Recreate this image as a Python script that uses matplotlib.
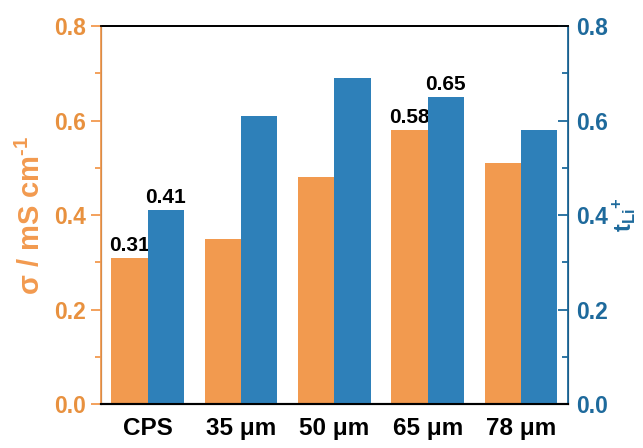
import matplotlib as mpl
mpl.use('Agg')
import matplotlib.pyplot as plt
import numpy as np
from matplotlib.ticker import MultipleLocator

plt.rcParams['font.family'] = ['Liberation Sans', 'DejaVu Sans']
plt.rcParams['font.weight'] = 'bold'
plt.rcParams['mathtext.fontset'] = 'custom'
plt.rcParams['mathtext.rm'] = 'Liberation Sans:bold'
plt.rcParams['mathtext.it'] = 'Liberation Sans:bold'
plt.rcParams['mathtext.bf'] = 'Liberation Sans:bold'

# data
samples = ['CPS', '35 μm', '50 μm', '65 μm', '78 μm']
sigma = [0.31, 0.35, 0.48, 0.58, 0.51]
t_li = [0.41, 0.61, 0.69, 0.65, 0.58]
labelled = [0, 3]  # groups with value labels

orange = '#F29A4F'
blue = '#2E80B9'
orange_txt = '#E8913F'
blue_txt = '#1E6A9C'

fig = plt.figure(figsize=(6.43, 4.48), dpi=100)
ax = fig.add_axes([0.157, 0.098, 0.726, 0.844])
ax2 = ax.twinx()

x = np.arange(len(samples))
w = 0.39
ax.bar(x - w/2, sigma, w, color=orange, zorder=2)
ax2.bar(x + w/2, t_li, w, color=blue, zorder=2)

for i in labelled:
    ax.text(x[i] - w/2, sigma[i] + 0.006, f'{sigma[i]:.2f}', ha='center', va='bottom',
            fontsize=15, fontweight='bold', color='black')
    ax2.text(x[i] + w/2, t_li[i] + 0.006, f'{t_li[i]:.2f}', ha='center', va='bottom',
             fontsize=15, fontweight='bold', color='black')

ax.set_xlim(-0.5, 4.5)
for a in (ax, ax2):
    a.set_ylim(0, 0.8)
    a.yaxis.set_major_locator(MultipleLocator(0.2))
    a.yaxis.set_minor_locator(MultipleLocator(0.1))

ax.set_xticks(x)
ax.set_xticklabels(samples, fontsize=17.5, fontweight='bold')
ax.tick_params(axis='x', length=0, pad=9)

ax.tick_params(axis='y', which='major', direction='out', length=7, width=1.3,
               colors=orange, labelcolor=orange_txt, labelsize=16.5)
ax.tick_params(axis='y', which='minor', direction='out', length=4, width=1.3, colors=orange)
ax2.tick_params(axis='y', which='major', direction='in', length=7, width=1.3,
                colors=blue_txt, labelcolor=blue_txt, labelsize=16.5, pad=6)
ax2.tick_params(axis='y', which='minor', direction='in', length=4, width=1.3, colors=blue_txt)
for lab in ax.get_yticklabels() + ax2.get_yticklabels():
    lab.set_fontweight('bold')

ax.yaxis.set_major_formatter(mpl.ticker.FormatStrFormatter('%.1f'))
ax2.yaxis.set_major_formatter(mpl.ticker.FormatStrFormatter('%.1f'))

for a in (ax, ax2):
    a.spines['top'].set_color('black')
    a.spines['bottom'].set_color('black')
    a.spines['top'].set_linewidth(1.3)
    a.spines['bottom'].set_linewidth(1.5)
ax2.spines['left'].set_color(orange)
ax2.spines['left'].set_linewidth(1.3)
ax2.spines['right'].set_color(blue_txt)
ax2.spines['right'].set_linewidth(1.3)

ax.set_ylabel('σ / mS cm$^{\\text{-}1}$', color=orange, fontsize=21, fontweight='bold', labelpad=6)
ax2.set_ylabel('t$_{Li}$$^{+}$', color=blue_txt, fontsize=17, fontweight='bold', labelpad=2)

fig.savefig('out.png', dpi=100)
